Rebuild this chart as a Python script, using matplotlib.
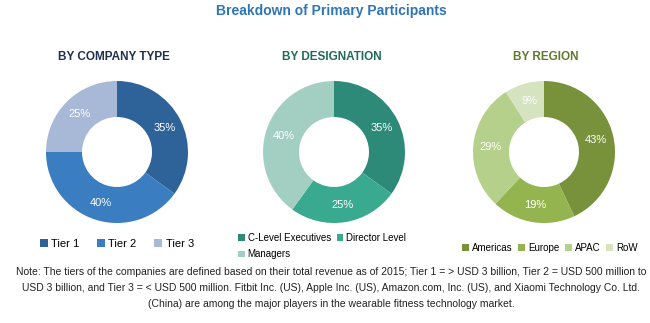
import matplotlib
matplotlib.use('Agg')
import matplotlib.pyplot as plt

plt.rcParams['font.family'] = ['Liberation Sans Narrow', 'Liberation Sans', 'DejaVu Sans']

W, H = 650, 323

# data
company_labels = ['Tier 1', 'Tier 2', 'Tier 3']
company_values = [35, 40, 25]
company_colors = ['#2E6399', '#3A7DC0', '#A7B9D6']

designation_labels = ['C-Level Executives', 'Director Level', 'Managers']
designation_values = [35, 25, 40]
designation_colors = ['#2E8A78', '#39AA90', '#A3CFC3']

region_labels = ['Americas', 'Europe', 'APAC', 'RoW']
region_values = [43, 19, 29, 9]
region_colors = ['#77923A', '#93B44E', '#B4D08A', '#D6E3C0']

note = ("Note: The tiers of the companies are defined based on their total revenue as of 2015; "
        "Tier 1 = > USD 3 billion, Tier 2 = USD 500 million to\n"
        "USD 3 billion, and Tier 3 = < USD 500 million. Fitbit Inc. (US), Apple Inc. (US), "
        "Amazon.com, Inc. (US), and Xiaomi Technology Co. Ltd.\n"
        "(China) are among the major players in the wearable fitness technology market.")

fig = plt.figure(figsize=(W / 100, H / 100), dpi=100)
ax = fig.add_axes([0, 0, 1, 1])
ax.set_xlim(0, W)
ax.set_ylim(0, H)
ax.set_aspect('equal')
ax.axis('off')


def fx(px):
    return px / W


def fy(py):
    return 1 - py / H


def donut(cx, cy, values, colors):
    wedges, _, autotexts = ax.pie(
        values, colors=colors, startangle=90, counterclock=False,
        center=(cx, H - cy), radius=71, autopct='%d%%', pctdistance=0.75,
        wedgeprops=dict(width=36, edgecolor='none'),
        textprops=dict(color='white', fontsize=8))
    return wedges


w1 = donut(117, 152, company_values, company_colors)
w2 = donut(334, 152, designation_values, designation_colors)
w3 = donut(544, 152, region_values, region_colors)
ax.set_xlim(0, W)
ax.set_ylim(0, H)

fig.text(fx(331), fy(11), 'Breakdown of Primary Participants', ha='center', va='center',
         fontsize=10, fontweight='bold', color='#2E75B6')
fig.text(fx(114), fy(57), 'BY COMPANY TYPE', ha='center', va='center',
         fontsize=8.5, fontweight='bold', color='#1F2F4F')
fig.text(fx(332), fy(57), 'BY DESIGNATION', ha='center', va='center',
         fontsize=8.5, fontweight='bold', color='#1E6B5A')
fig.text(fx(546), fy(57), 'BY REGION', ha='center', va='center',
         fontsize=8.5, fontweight='bold', color='#5F7A2B')

leg_kw = dict(frameon=False, handlelength=0.7, handleheight=0.7,
              handletextpad=0.3, borderaxespad=0, borderpad=0, loc='center')

fig.legend(w1, company_labels, ncol=3, columnspacing=1.6, fontsize=8,
           bbox_to_anchor=(fx(117), fy(244)), **leg_kw)
fig.legend([w2[0], w2[2], w2[1]], [designation_labels[0], designation_labels[2], designation_labels[1]],
           ncol=2, columnspacing=0.6, labelspacing=0.7, fontsize=7,
           bbox_to_anchor=(fx(322), fy(246)), **leg_kw)
fig.legend(w3, region_labels, ncol=4, columnspacing=0.6, fontsize=7,
           bbox_to_anchor=(fx(550), fy(248)), **leg_kw)

fig.text(fx(331), fy(288), note, ha='center', va='center', fontsize=7.5,
         color='#222222', linespacing=1.75)

fig.savefig('out.png', dpi=100)
